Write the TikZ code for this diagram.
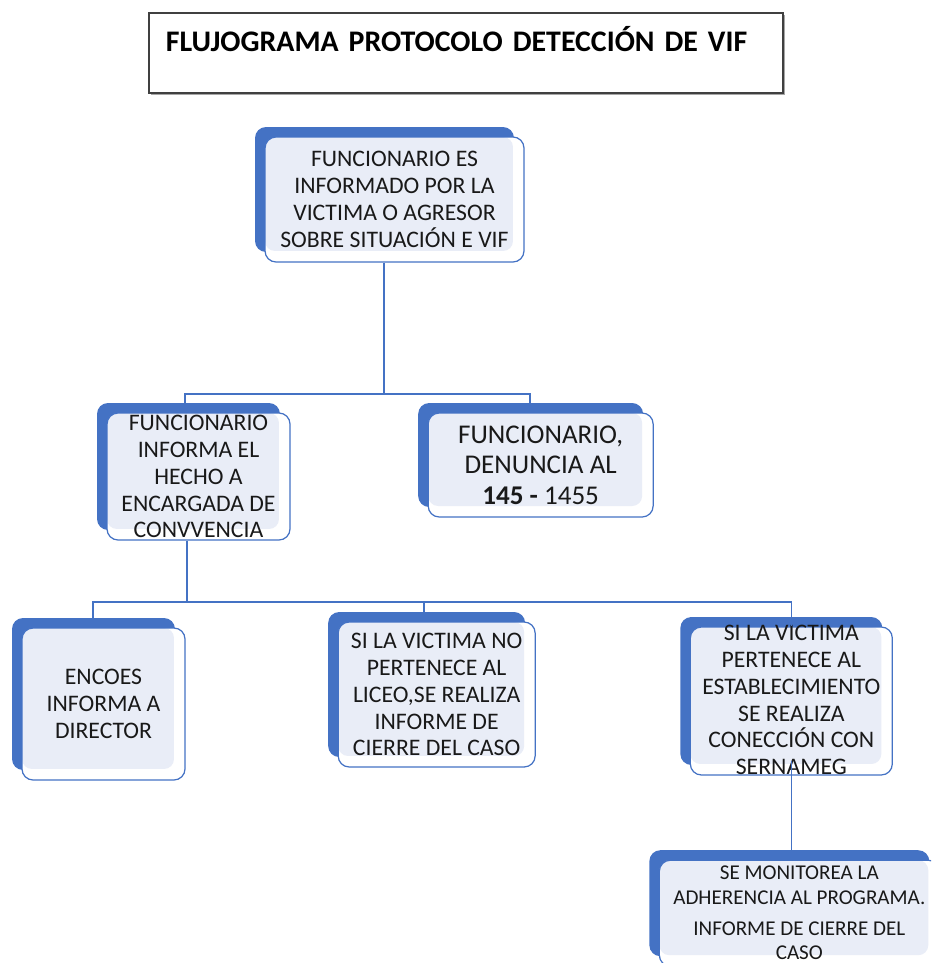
\documentclass[tikz,border=0pt]{standalone}
\usepackage{fontspec}
\setmainfont{Carlito}
\newfontfamily\titfont{Carlito}[WordSpace=0.7]
\usetikzlibrary{positioning,shadows}

\definecolor{vifazul}{RGB}{68,114,196}
\definecolor{vifclaro}{RGB}{233,237,247}

\begin{document}
\begin{tikzpicture}[
        x=0.02cm, y=-0.02cm,
        font=\fontsize{13.5}{15.3}\selectfont,
        caja/.style={draw=vifazul, line width=0.7pt, fill=white, rounded corners=0.22cm,
            align=center, inner sep=0pt, text=black!90,
            general shadow={shadow xshift=-0.2cm, shadow yshift=0.2cm, fill=vifazul},
            path picture={\fill[vifclaro, rounded corners=0.2cm]
                (path picture bounding box.north west) rectangle
                ([shift={(-0.22cm,0.22cm)}]path picture bounding box.south east);}},
        titulo/.style={draw=black!75, line width=1pt, fill=white, anchor=north west,
            align=left, inner xsep=0.34cm, inner ysep=0pt, text width=12cm,
            text height=0.78cm, text depth=0.82cm,
            general shadow={shadow xshift=0.04cm, shadow yshift=-0.04cm, fill=black!35},
            font=\titfont\fontsize{17}{20}\selectfont\bfseries},
        conector/.style={draw=vifazul, line width=0.8pt}
    ]

    \useasboundingbox (0,0) rectangle (931,963);
    \clip (0,0) rectangle (931,963);

    % Title
    \node[titulo] (tit) at (148,12) {FLUJOGRAMA PROTOCOLO DETECCIÓN DE VIF};

    % Level 1
    \node[caja, minimum width=5.18cm, minimum height=2.5cm] (top) at (394.5,199.5)
        {FUNCIONARIO ES\\INFORMADO POR LA\\VICTIMA O AGRESOR\\SOBRE SITUACIÓN E VIF};

    % Level 2
    \node[caja, minimum width=3.66cm, minimum height=2.54cm] (informa) at (198.5,476.5)
        {FUNCIONARIO\\INFORMA EL\\HECHO A\\ENCARGADA DE\\CONVVENCIA};
    \node[caja, minimum width=4.5cm, minimum height=2.08cm, right=2.74cm of informa, yshift=0.23cm,
        font=\fontsize{15.4}{17.4}\selectfont] (denuncia)
        {FUNCIONARIO,\\DENUNCIA AL\\\textbf{145 -} 1455};

    % Level 3
    \node[caja, minimum width=3.26cm, minimum height=3.04cm] (encoes) at (103.5,704)
        {ENCOES\\INFORMA A\\DIRECTOR};
    \node[caja, minimum width=3.94cm, minimum height=2.9cm, right=3.04cm of encoes, yshift=0.19cm] (liceo)
        {SI LA VICTIMA NO\\PERTENECE AL\\LICEO,SE REALIZA\\INFORME DE\\CIERRE DEL CASO};
    \node[caja, minimum width=4.04cm, minimum height=2.96cm, text height=84pt, text depth=0pt,
        right=3.08cm of liceo, yshift=-0.13cm] (conex)
        {SI LA VICTIMA\\PERTENECE AL\\ESTABLECIMIENTO\\SE REALIZA\\CONECCIÓN CON\\SERNAMEG};

    % Level 4
    \node[caja, minimum width=5.6cm, minimum height=2.12cm, below=1.68cm of conex, xshift=0.16cm,
        font=\fontsize{12}{14}\selectfont] (monitor)
        {SE MONITOREA LA\\ADHERENCIA AL PROGRAMA.\\[3.5pt]INFORME DE CIERRE DEL\\CASO};

    % Lines
    \coordinate (nudo1) at (384,394);
    \coordinate (nudo2) at (187,602);
    \draw[conector] (top.south -| nudo1) -- (nudo1);
    \draw[conector] ([xshift=-0.27cm]informa.north) |- (nudo1) -| ([xshift=-0.21cm]denuncia.north);
    \draw[conector] (informa.south -| nudo2) -- (nudo2);
    \draw[conector] ([xshift=-0.21cm]encoes.north) |- (nudo2) -| (conex.north);
    \draw[conector] ([xshift=-0.25cm]liceo.north) |- (nudo2);
    \draw[conector] ([yshift=0.3cm]conex.south) -- (conex.south |- monitor.north);

\end{tikzpicture}
\end{document}
